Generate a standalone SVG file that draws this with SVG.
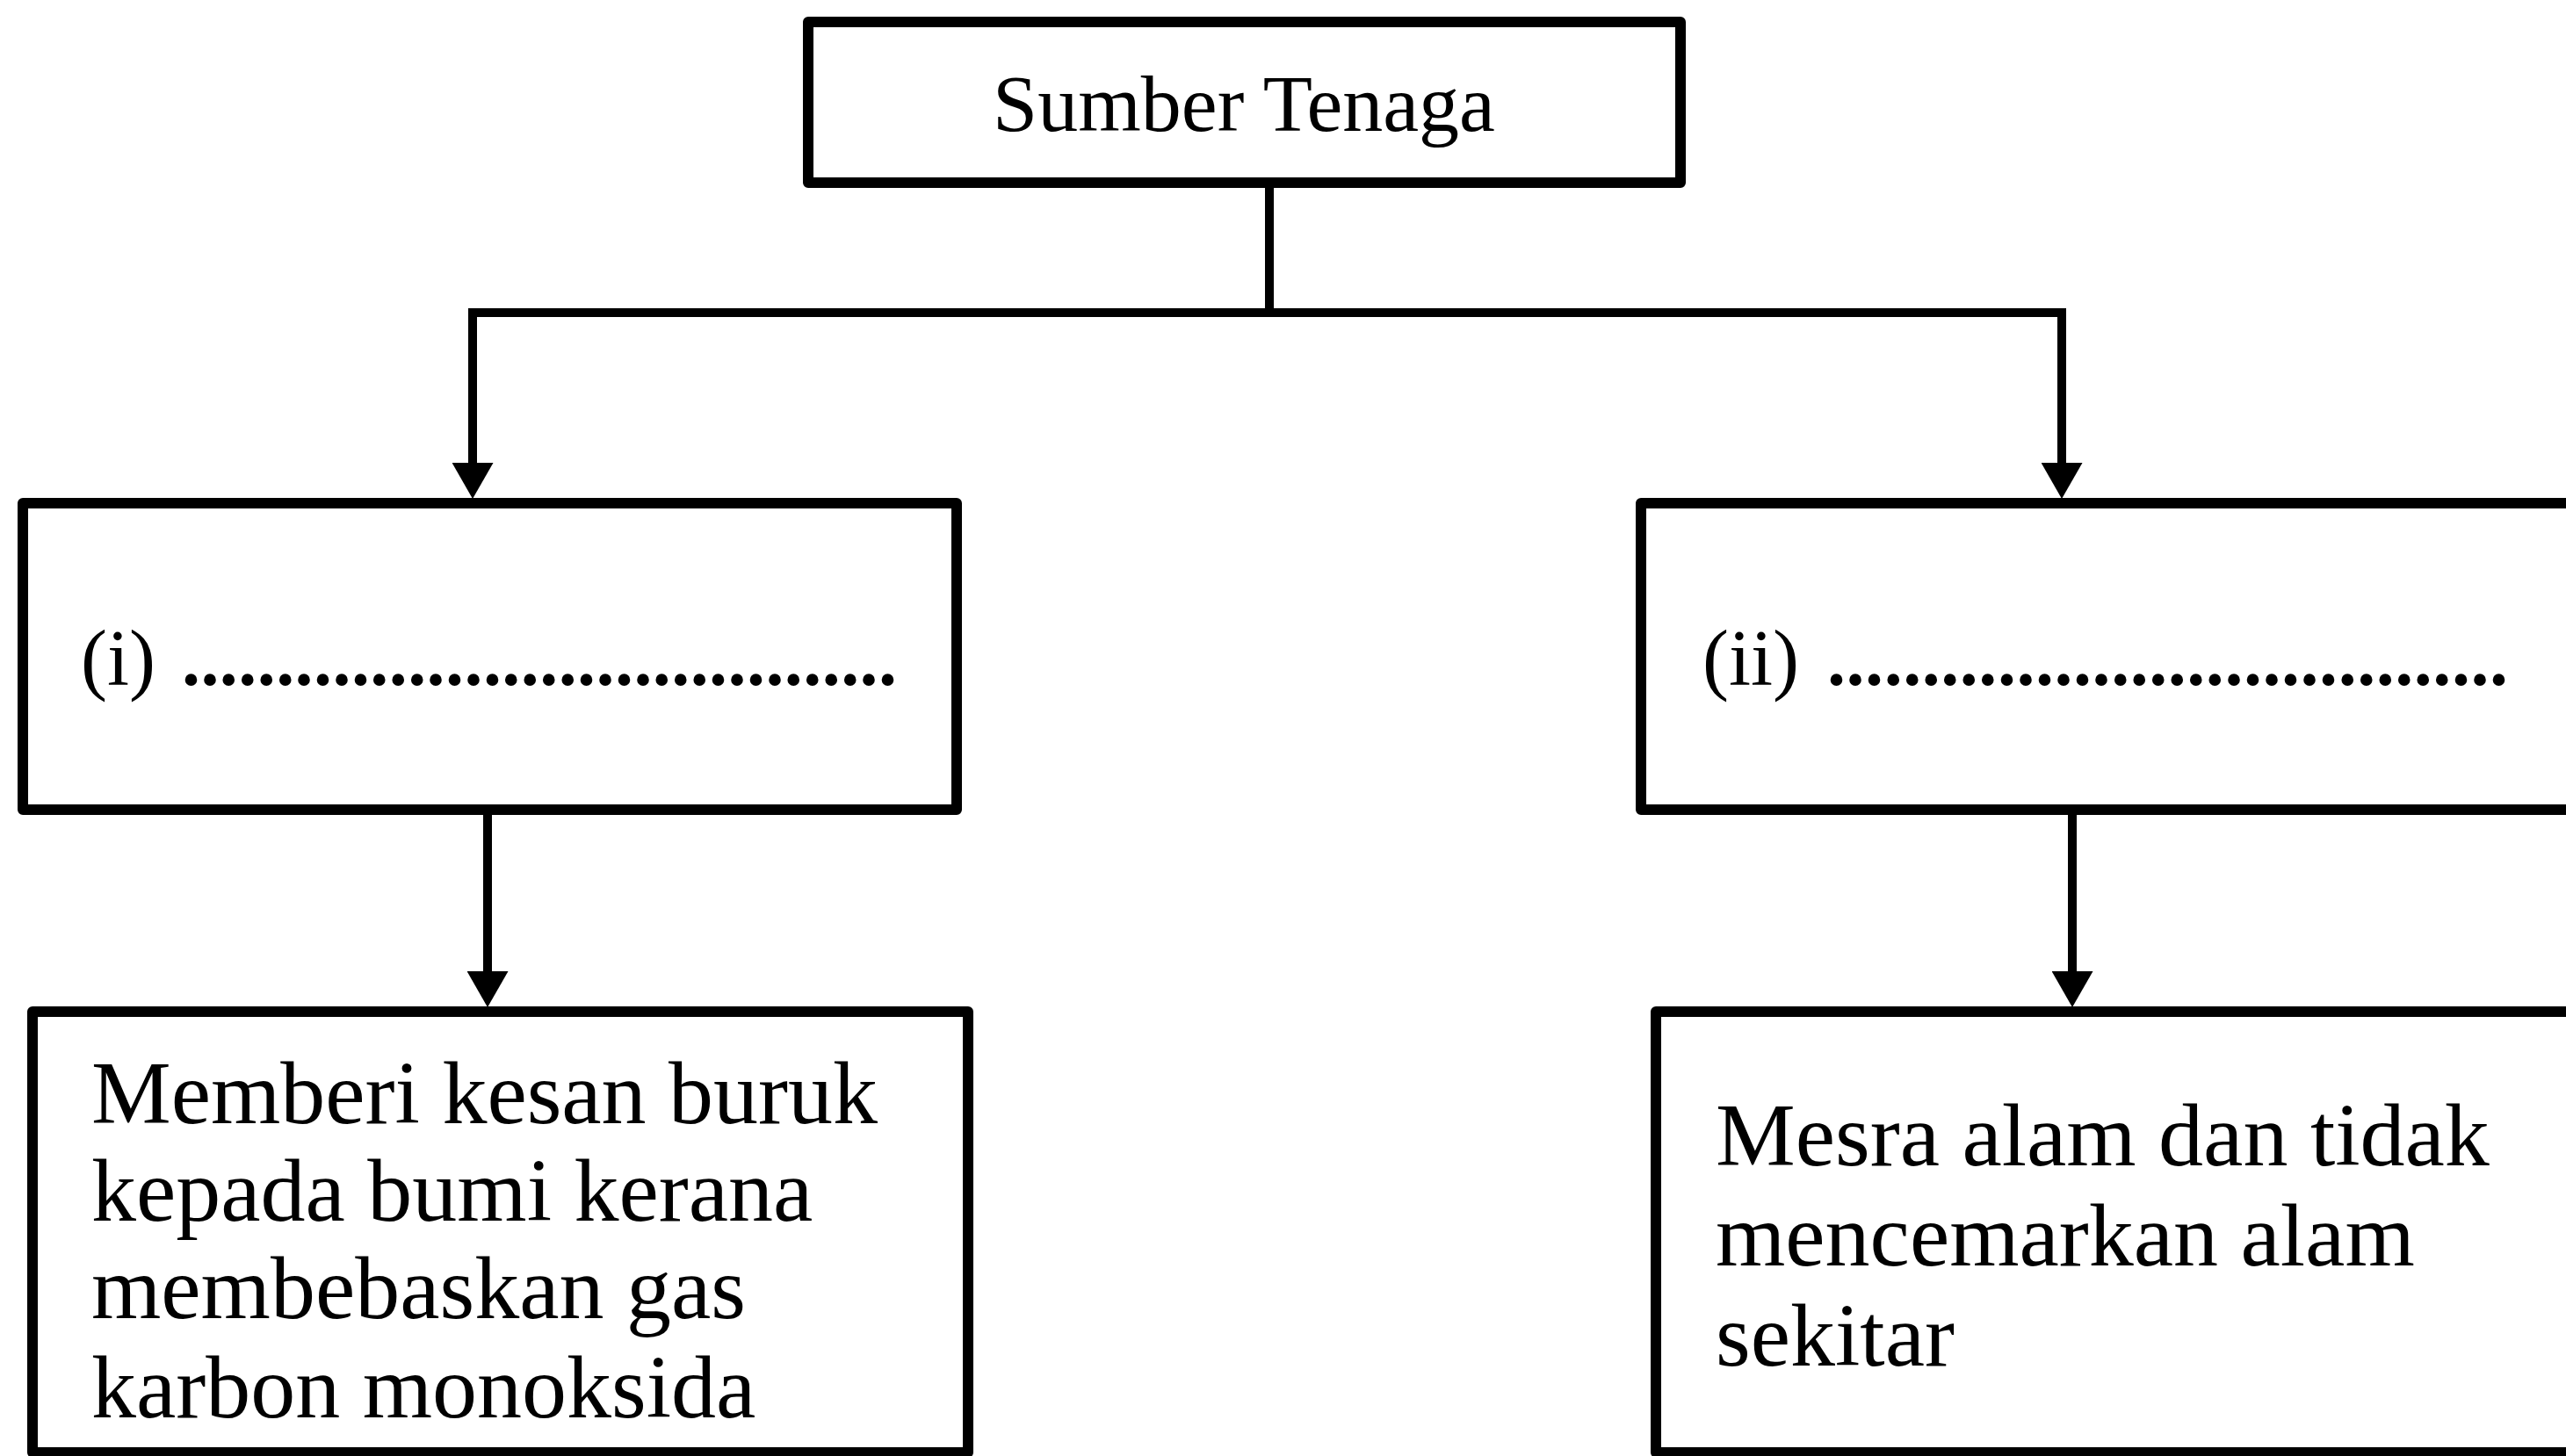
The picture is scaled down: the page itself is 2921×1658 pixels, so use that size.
<svg xmlns="http://www.w3.org/2000/svg" width="2921" height="1658" viewBox="0 0 2921 1658">
  <style>
    .box { fill: #ffffff; stroke: #000000; stroke-width: 12; stroke-linejoin: round; }
    .conn { fill: none; stroke: #000000; stroke-width: 10; }
    .txt { font-family: "Liberation Serif", "Times New Roman", serif; fill: #000000; }
    .body { font-size: 102px; }
    .dots { font-size: 84px; font-weight: bold; }
  </style>
  <defs>
    <marker id="arrow" markerUnits="userSpaceOnUse" markerWidth="41" markerHeight="47" viewBox="0 0 41 47" refX="0" refY="23.5" orient="auto">
      <path d="M0,0 L41,23.5 L0,47 Z" fill="#000000"/>
    </marker>
  </defs>
  <rect width="2921" height="1658" fill="#ffffff"/>

  <g id="connectors">
    <line class="conn" x1="1445" y1="208" x2="1445" y2="356"/>
    <line class="conn" x1="533" y1="356" x2="2352" y2="356"/>
    <line class="conn" x1="538" y1="356" x2="538" y2="527" marker-end="url(#arrow)"/>
    <line class="conn" x1="2347" y1="356" x2="2347" y2="527" marker-end="url(#arrow)"/>
    <line class="conn" x1="555" y1="922" x2="555" y2="1106" marker-end="url(#arrow)"/>
    <line class="conn" x1="2359" y1="922" x2="2359" y2="1106" marker-end="url(#arrow)"/>
  </g>

  <g id="node-sumber">
    <rect class="box" x="920" y="25" width="993" height="183"/>
    <text class="txt" x="1416" y="149" font-size="92" text-anchor="middle">Sumber Tenaga</text>
  </g>

  <g id="node-i">
    <rect class="box" x="26" y="573" width="1063" height="349"/>
    <text class="txt" x="92" y="780" font-size="90">(i)</text>
    <text class="txt dots" x="207" y="780" textLength="814" lengthAdjust="spacing">......................................</text>
  </g>

  <g id="node-ii">
    <rect class="box" x="1868" y="573" width="1080" height="349"/>
    <text class="txt" x="1938" y="780" font-size="90">(ii)</text>
    <text class="txt dots" x="2080" y="780" textLength="775" lengthAdjust="spacing">....................................</text>
  </g>

  <g id="node-kesan-buruk">
    <rect class="box" x="37" y="1152" width="1065" height="502"/>
    <text class="txt body" x="104" y="1279">Memberi kesan buruk</text>
    <text class="txt body" x="104" y="1390">kepada bumi kerana</text>
    <text class="txt body" x="104" y="1501">membebaskan gas</text>
    <text class="txt body" x="104" y="1614">karbon monoksida</text>
  </g>

  <g id="node-mesra-alam">
    <rect class="box" x="1885" y="1152" width="1063" height="502"/>
    <text class="txt body" x="1953" y="1327">Mesra alam dan tidak</text>
    <text class="txt body" x="1953" y="1441">mencemarkan alam</text>
    <text class="txt body" x="1953" y="1555">sekitar</text>
  </g>
</svg>
